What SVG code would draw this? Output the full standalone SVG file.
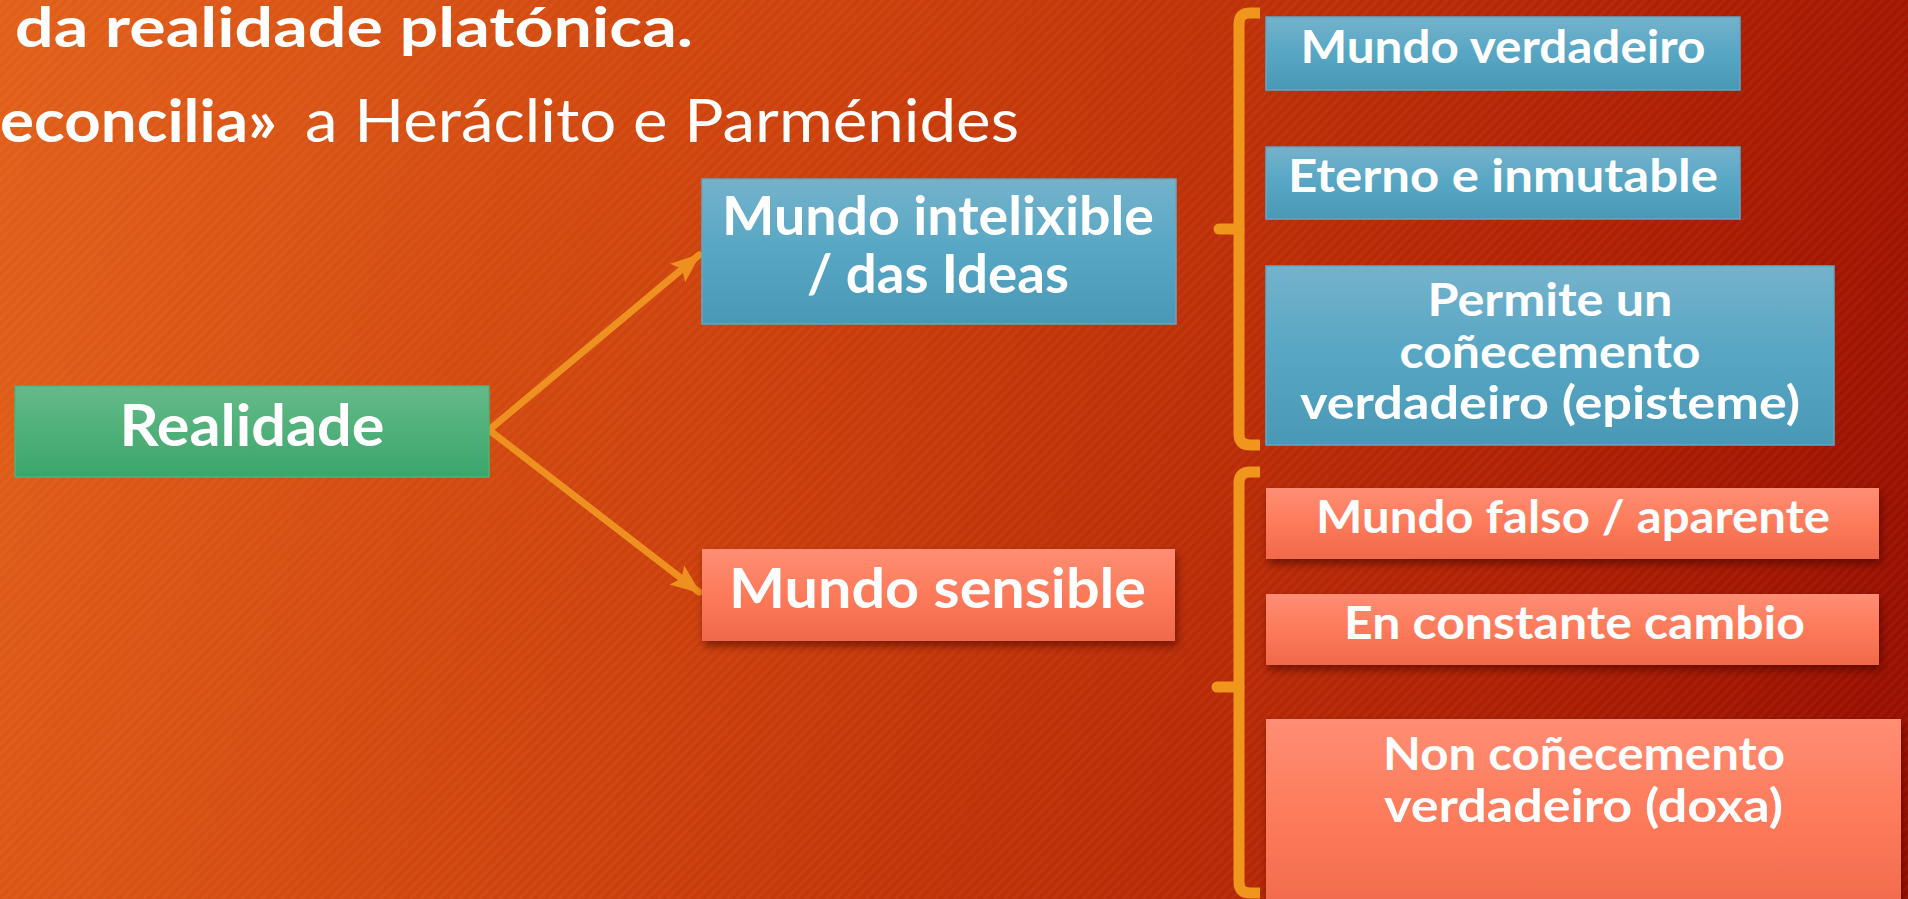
<svg xmlns="http://www.w3.org/2000/svg" width="1908" height="899" viewBox="0 0 1908 899">
<defs>
<linearGradient id="bg" gradientUnits="userSpaceOnUse" x1="0" y1="0" x2="1908" y2="560">
<stop offset="0" stop-color="#e2601a"/>
<stop offset="0.45" stop-color="#ca3d0a"/>
<stop offset="0.8" stop-color="#b02104"/>
<stop offset="1" stop-color="#9a1000"/>
</linearGradient>
<pattern id="stripes" width="7" height="7" patternUnits="userSpaceOnUse" patternTransform="rotate(-45)">
<rect width="7" height="3" fill="#ffffff" fill-opacity="0.035"/>
</pattern>
<linearGradient id="gGreen" x1="0" y1="0" x2="0" y2="1">
<stop offset="0" stop-color="#65ba89"/>
<stop offset="1" stop-color="#3aa66a"/>
</linearGradient>
<linearGradient id="gBlue" x1="0" y1="0" x2="0" y2="1">
<stop offset="0" stop-color="#75b2cb"/>
<stop offset="0.5" stop-color="#56a6c4"/>
<stop offset="1" stop-color="#4a98b6"/>
</linearGradient>
<linearGradient id="gSalmon" x1="0" y1="0" x2="0" y2="1">
<stop offset="0" stop-color="#ff8d74"/>
<stop offset="0.5" stop-color="#fd7a5a"/>
<stop offset="1" stop-color="#f0694a"/>
</linearGradient>
<filter id="shadow" x="-5%" y="-20%" width="115%" height="150%">
<feDropShadow dx="2" dy="5" stdDeviation="4" flood-color="#3a0500" flood-opacity="0.55"/>
</filter>
<marker id="arrow" markerUnits="userSpaceOnUse" markerWidth="32" markerHeight="26" refX="28" refY="12" orient="auto">
<path d="M0,0 L30,12 L0,24 L6,12 z" fill="#ee9020"/>
</marker>
<style>
.t{font-family:Lato,"Open Sans","Liberation Sans",sans-serif;fill:#ffffff;font-weight:bold;text-anchor:middle}
.big{font-size:56px}
.sm{font-size:45px}
.hd{font-family:Lato,"Open Sans","Liberation Sans",sans-serif;fill:#ffffff}
.conn{stroke:#ee9020;stroke-width:7;fill:none;stroke-linecap:round}
.br{stroke:#f1961c;stroke-width:11;fill:none}
.blue{fill:url(#gBlue);stroke:#5ea9c5;stroke-width:1.5}
.salmon{fill:url(#gSalmon);filter:url(#shadow)}
</style>
</defs>
<rect width="1908" height="899" fill="url(#bg)"/>
<rect width="1908" height="899" fill="url(#stripes)"/>

<g id="title">
<text class="hd" x="15" y="47" font-size="55" font-weight="bold" textLength="678" lengthAdjust="spacingAndGlyphs">da realidade platónica.</text>
<text class="hd" x="0" y="142" font-size="60" font-weight="bold" textLength="277" lengthAdjust="spacingAndGlyphs">econcilia»</text>
<text class="hd" x="305" y="142" font-size="60" textLength="714" lengthAdjust="spacingAndGlyphs">a Heráclito e Parménides</text>
</g>

<g id="connectors">
<path class="conn" d="M489,430 L699,255" marker-end="url(#arrow)"/>
<path class="conn" d="M489,430 L699,592" marker-end="url(#arrow)"/>
<path class="br" d="M1260,13 H1250 Q1239,13 1239,24 V434 Q1239,445 1250,445 H1260"/>
<path class="br" d="M1239,229 H1219" stroke-linecap="round"/>
<path class="br" d="M1260,472 H1250 Q1239,472 1239,483 V882 Q1239,893 1250,893 H1260"/>
<path class="br" d="M1239,687 H1217" stroke-linecap="round"/>
</g>

<g id="realidade">
<rect x="15" y="386" width="474" height="91" fill="url(#gGreen)" stroke="#4db37a" stroke-width="1.5"/>
<text class="t" x="252" y="446" font-size="58" textLength="265" lengthAdjust="spacingAndGlyphs">Realidade</text>
</g>

<g id="mundo-intelixible">
<rect class="blue" x="702" y="179" width="474" height="145"/>
<text class="t" x="938" y="235" font-size="54" textLength="432" lengthAdjust="spacingAndGlyphs">Mundo intelixible</text>
<text class="t" x="938" y="293" font-size="54" textLength="262" lengthAdjust="spacingAndGlyphs">/ das Ideas</text>
</g>

<g id="mundo-sensible">
<rect class="salmon" x="702" y="549" width="473" height="92"/>
<text class="t big" x="937.5" y="608" textLength="417" lengthAdjust="spacingAndGlyphs">Mundo sensible</text>
</g>

<g id="mundo-verdadeiro">
<rect class="blue" x="1266" y="17" width="474" height="73"/>
<text class="t sm" x="1503" y="63" textLength="405" lengthAdjust="spacingAndGlyphs">Mundo verdadeiro</text>
</g>

<g id="eterno">
<rect class="blue" x="1266" y="147" width="474" height="72"/>
<text class="t sm" x="1503" y="192" textLength="430" lengthAdjust="spacingAndGlyphs">Eterno e inmutable</text>
</g>

<g id="episteme">
<rect class="blue" x="1266" y="266" width="568" height="179"/>
<text class="t sm" x="1550" y="316" textLength="245" lengthAdjust="spacingAndGlyphs">Permite un</text>
<text class="t sm" x="1550" y="368" textLength="301" lengthAdjust="spacingAndGlyphs">coñecemento</text>
<text class="t sm" x="1550" y="419" textLength="500" lengthAdjust="spacingAndGlyphs">verdadeiro (episteme)</text>
</g>

<g id="mundo-falso">
<rect class="salmon" x="1266" y="488" width="613" height="71"/>
<text class="t sm" x="1573" y="533" textLength="514" lengthAdjust="spacingAndGlyphs">Mundo falso / aparente</text>
</g>

<g id="cambio">
<rect class="salmon" x="1266" y="594" width="613" height="71"/>
<text class="t sm" x="1574.5" y="639" textLength="461" lengthAdjust="spacingAndGlyphs">En constante cambio</text>
</g>

<g id="doxa">
<rect class="salmon" x="1266" y="719" width="635" height="200"/>
<text class="t sm" x="1584" y="770" textLength="402" lengthAdjust="spacingAndGlyphs">Non coñecemento</text>
<text class="t sm" x="1583.5" y="822" textLength="399" lengthAdjust="spacingAndGlyphs">verdadeiro (doxa)</text>
</g>
</svg>
